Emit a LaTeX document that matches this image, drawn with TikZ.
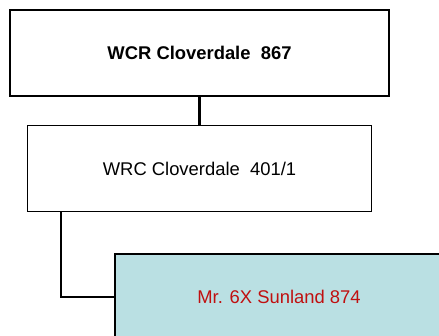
\documentclass[tikz,border=0pt]{standalone}
\usepackage{fontspec}
\setmainfont{Liberation Sans}
\usepackage{xcolor}
\usetikzlibrary{positioning}
\definecolor{horsecyan}{RGB}{186,224,227}
\definecolor{horsered}{RGB}{192,16,16}

\begin{document}
\begin{tikzpicture}[x=1pt, y=1pt, node distance=115.7pt, on grid,
        horse/.style={draw, line width=1.3pt, minimum width=379pt, minimum height=86pt,
            font=\fontsize{18.4}{22}\selectfont},
        link/.style={line width=2.2pt}]
        \useasboundingbox (0,0) rectangle (439,335);
        \clip (0,0) rectangle (439,335);
        \node[horse, font=\fontsize{18.4}{22}\selectfont\bfseries] (sire) at (199.5,282) {WCR Cloverdale\ \ 867};
        \node[horse, minimum width=344pt] (dam) [below=of sire] {WRC Cloverdale\ \ 401/1};
        \node[horse, minimum width=328pt, fill=horsecyan, text=horsered] (foal) at (279,38) {Mr. 6X Sunland 874};

        \draw[link] (sire.south) -- (dam.north);
        \draw[link] ([xshift=34pt]dam.south west) |- (foal.west);

    \end{tikzpicture}
\end{document}
